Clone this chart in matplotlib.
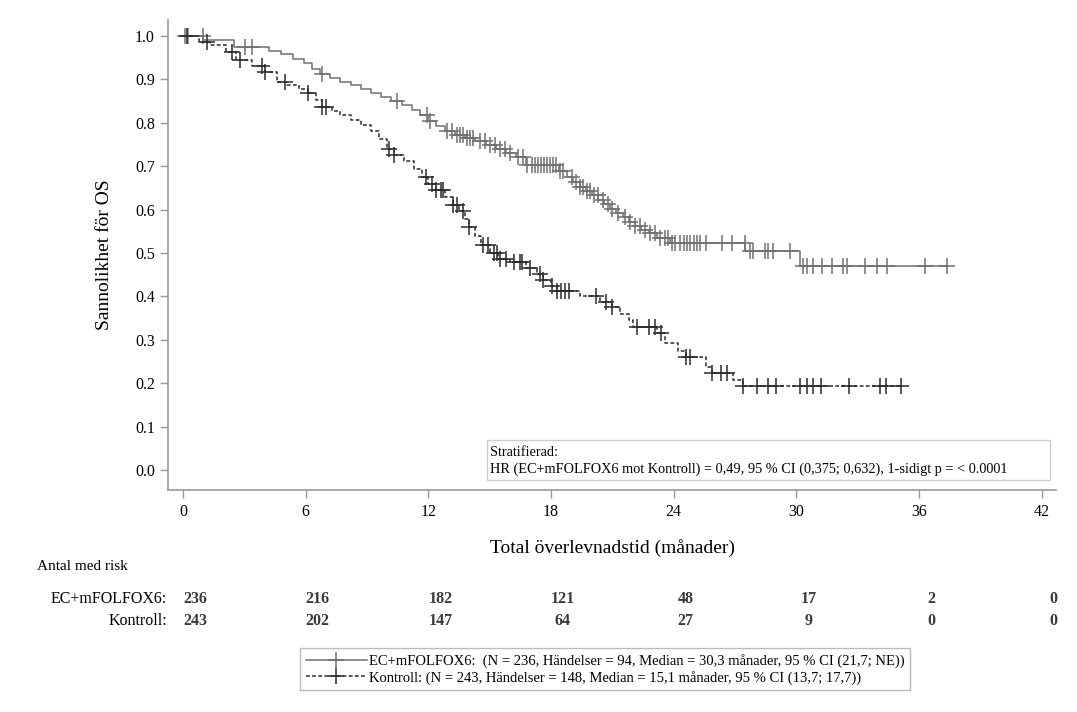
import numpy as np
import matplotlib
matplotlib.use('Agg')
import matplotlib.pyplot as plt
from matplotlib.lines import Line2D
from matplotlib.patches import Rectangle
from matplotlib.ticker import FormatStrFormatter

plt.rcParams['font.family'] = ['Liberation Serif', 'DejaVu Serif']

# KM step curves (month, survival after the drop)
ec_t = [0, 1.0, 2.5, 4.2, 4.8, 5.4, 5.9, 6.3, 6.7, 7.2, 7.7, 8.2, 8.7, 9.2, 9.7,
        10.2, 10.7, 11.2, 11.6, 12.0, 12.4, 12.8, 13.3, 13.8, 14.3, 14.8, 15.3,
        15.8, 16.3, 16.8, 18.4, 18.8, 19.1, 19.4, 19.7, 20.0, 20.3, 20.6, 20.9,
        21.2, 21.5, 21.8, 22.1, 22.4, 22.8, 23.2, 23.8, 27.5, 30.2]
ec_s = [1.0, 0.99, 0.975, 0.965, 0.958, 0.948, 0.938, 0.925, 0.912, 0.904, 0.895,
        0.887, 0.878, 0.869, 0.86, 0.851, 0.841, 0.83, 0.818, 0.804, 0.793, 0.781,
        0.772, 0.765, 0.757, 0.749, 0.74, 0.73, 0.72, 0.703, 0.69, 0.675, 0.664,
        0.653, 0.643, 0.633, 0.622, 0.612, 0.602, 0.592, 0.582, 0.572, 0.562,
        0.553, 0.545, 0.535, 0.523, 0.505, 0.47]
ec_cens = [0.1, 0.24, 0.98, 3.03, 3.37, 6.8, 10.46, 11.93, 12.08, 12.9, 13.15, 13.4,
           13.55, 13.7, 13.9, 14.03, 14.18, 14.52, 14.77, 15.0, 15.26, 15.5, 15.75,
           15.99, 16.38, 16.63, 16.82, 17.07, 17.21, 17.36, 17.5, 17.65, 17.8, 17.95,
           18.09, 18.24, 18.44, 18.58, 19.02, 19.22, 19.41, 19.56, 19.76, 19.9, 20.1,
           20.29, 20.54, 20.78, 20.98, 21.27, 21.61, 21.86, 22.1, 22.35, 22.59, 22.84,
           23.08, 23.33, 23.57, 23.72, 23.91, 24.06, 24.3, 24.5, 24.65, 24.79, 24.99,
           25.13, 25.28, 25.57, 26.36, 26.85, 27.48, 27.73, 27.87, 28.46, 28.61,
           28.85, 29.68, 30.32, 30.51, 30.81, 31.25, 31.74, 32.27, 32.47, 33.35,
           33.94, 34.43, 36.28, 37.36]

ko_t = [0, 0.8, 1.3, 2.1, 2.6, 3.4, 4.0, 4.6, 5.1, 5.7, 6.1, 6.5, 6.8, 7.3, 7.7,
        8.2, 8.7, 9.2, 9.6, 10.0, 10.3, 10.8, 11.3, 11.7, 12.0, 12.4, 12.8, 13.2,
        13.5, 13.8, 14.0, 14.3, 14.6, 15.0, 15.4, 16.0, 16.8, 17.3, 17.6, 18.0,
        18.3, 19.4, 20.4, 21.0, 21.4, 21.8, 22.0, 23.2, 23.6, 24.2, 24.6, 25.6,
        25.9, 26.9, 27.4]
ko_s = [1.0, 0.986, 0.979, 0.964, 0.945, 0.93, 0.917, 0.894, 0.887, 0.878, 0.868,
        0.852, 0.836, 0.828, 0.818, 0.806, 0.795, 0.78, 0.762, 0.74, 0.726, 0.712,
        0.694, 0.676, 0.66, 0.645, 0.628, 0.61, 0.596, 0.578, 0.56, 0.54, 0.518,
        0.5, 0.486, 0.478, 0.466, 0.452, 0.438, 0.424, 0.412, 0.4, 0.388, 0.376,
        0.36, 0.345, 0.33, 0.315, 0.293, 0.275, 0.26, 0.238, 0.223, 0.207, 0.193]
ko_cens = [0.2, 1.17, 2.4, 2.8, 3.86, 4.0, 4.99, 6.1, 6.8, 7.0, 10.1, 10.3, 11.9,
           12.2, 12.4, 12.6, 12.7, 13.2, 13.4, 13.7, 14.0, 14.7, 14.9, 15.2, 15.35,
           15.5, 15.8, 16.2, 16.5, 16.6, 16.97, 17.45, 17.6, 18.04, 18.3, 18.5,
           18.7, 18.9, 20.2, 20.7, 21.0, 22.2, 22.8, 23.1, 23.4, 24.6, 24.8, 25.9,
           26.3, 26.6, 27.4, 28.1, 28.6, 29.0, 30.2, 30.5, 30.8, 31.2, 32.6, 34.1,
           34.4, 35.1]

xticks = [0, 6, 12, 18, 24, 30, 36, 42]
risk_ec = [236, 216, 182, 121, 48, 17, 2, 0]
risk_ko = [243, 202, 147, 64, 27, 9, 0, 0]

ec_label = 'EC+mFOLFOX6:  (N = 236, Händelser = 94, Median = 30,3 månader, 95 % CI (21,7; NE))'
ko_label = 'Kontroll: (N = 243, Händelser = 148, Median = 15,1 månader, 95 % CI (13,7; 17,7))'
hr_text = ('Stratifierad:\n'
           'HR (EC+mFOLFOX6 mot Kontroll) = 0,49, 95 % CI (0,375; 0,632), 1-sidigt p = < 0.0001')

ec_col = '#707070'
ko_col = '#2b2b2b'
ko_ls = (0, (2.5, 1.5))


def km_line(t, s, cens):
    t = np.asarray(t, float)
    s = np.asarray(s, float)
    cens = np.asarray(cens, float)
    end = max(t[-1], cens.max())
    tt = np.append(t, end)
    ss = np.append(s, s[-1])
    cy = s[np.searchsorted(t, cens, side='right') - 1]
    return tt, ss, cens, cy


fig = plt.figure(figsize=(10.77, 7.12), dpi=100)
ax = fig.add_axes([0.156, 0.312, 0.8245, 0.66])

for t, s, c, col, ls in [(ec_t, ec_s, ec_cens, ec_col, '-'),
                         (ko_t, ko_s, ko_cens, ko_col, ko_ls)]:
    tt, ss, cx, cy = km_line(t, s, c)
    ax.plot(tt, ss, drawstyle='steps-post', color=col, lw=1.1, linestyle=ls)
    ax.plot(cx, cy, linestyle='none', marker='+', markersize=12,
            markeredgewidth=1.1, color=col)

ax.set_xlim(-0.73, 42.7)
ax.set_ylim(-0.046, 1.037)
ax.set_xticks(xticks)
ax.set_yticks(np.arange(0, 1.01, 0.1))
ax.yaxis.set_major_formatter(FormatStrFormatter('%.1f'))
ax.tick_params(labelsize=11.5, color='#999999', length=6, width=1)
ax.tick_params(axis='x', pad=4)
for side in ['top', 'right']:
    ax.spines[side].set_visible(False)
for side in ['left', 'bottom']:
    ax.spines[side].set_color('#999999')
    ax.spines[side].set_linewidth(1.2)

ax.set_xlabel('Total överlevnadstid (månader)', fontsize=14, labelpad=14)
ax.set_ylabel('Sannolikhet för OS', fontsize=14, labelpad=16)

# stratified HR box
ax.add_patch(Rectangle((0.359, 0.0213), 0.634, 0.0851, transform=ax.transAxes,
                       facecolor='white', edgecolor='#cccccc', lw=1, zorder=3))
ax.text(0.3626, 0.061, hr_text, transform=ax.transAxes, fontsize=10.3,
        va='center', ha='left', linespacing=1.3, zorder=4)

# number at risk table
fig.text(37 / 1077, 1 - 566 / 712, 'Antal med risk', fontsize=11, va='center', ha='left')
fig.text(167 / 1077, 1 - 599 / 712, 'EC+mFOLFOX6:', fontsize=11.5, va='center', ha='right')
fig.text(167 / 1077, 1 - 621 / 712, 'Kontroll:', fontsize=11.5, va='center', ha='right')
for xt, a, b in zip(xticks, risk_ec, risk_ko):
    xf = fig.transFigure.inverted().transform(ax.transData.transform((xt, 0)))[0] + 12 / 1077
    fig.text(xf, 1 - 599 / 712, str(a), fontsize=11.5, va='center', ha='center',
             color='#3a3a3a', fontweight='bold')
    fig.text(xf, 1 - 621 / 712, str(b), fontsize=11.5, va='center', ha='center',
             color='#3a3a3a', fontweight='bold')

handles = [Line2D([], [], color=ec_col, lw=1.1, marker='+', markersize=12, markeredgewidth=1.1),
           Line2D([], [], color=ko_col, lw=1.1, linestyle=ko_ls, marker='+', markersize=12,
                  markeredgewidth=1.1)]
leg = fig.legend(handles, [ec_label, ko_label], loc='upper left',
                 bbox_to_anchor=(300 / 1077, 1 - 648 / 712), fontsize=10.5,
                 handlelength=4.2, handletextpad=0.1, labelspacing=0.2,
                 fancybox=False, framealpha=1, edgecolor='#bbbbbb', borderpad=0.4,
                 borderaxespad=0)
leg.get_frame().set_linewidth(1)

fig.savefig('out.png', dpi=100)
